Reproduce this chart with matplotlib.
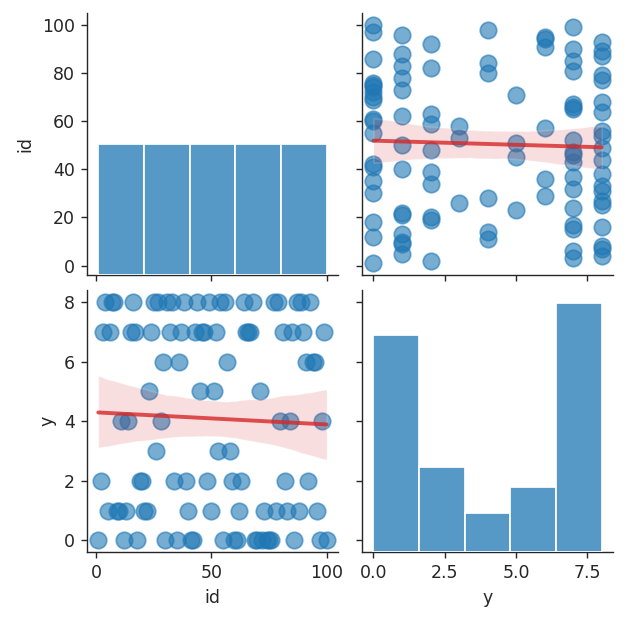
import matplotlib
matplotlib.use('Agg')
import matplotlib.pyplot as plt
import pandas as pd
import seaborn as sns

# values
ids = [1, 2, 3, 4, 5, 6, 7, 8, 9, 10, 11, 12, 13, 14, 15, 16, 17, 18, 19, 20,
       21, 22, 23, 24, 25, 26, 27, 28, 29, 30, 31, 32, 33, 34, 35, 36, 37, 38, 39, 40,
       41, 42, 43, 44, 45, 46, 47, 48, 49, 50, 51, 52, 53, 54, 55, 56, 57, 58, 59, 60,
       61, 62, 63, 64, 65, 66, 67, 68, 69, 70, 71, 72, 73, 74, 75, 76, 77, 78, 79, 80,
       81, 82, 83, 84, 85, 86, 87, 88, 89, 90, 91, 92, 93, 94, 95, 96, 97, 98, 99, 100]
y_vals = [0, 2, 7, 8, 1, 7, 8, 8, 1, 1, 4, 0, 1, 4, 7, 8, 7, 0, 2, 2,
          1, 1, 5, 7, 8, 3, 8, 4, 6, 0, 8, 7, 8, 2, 0, 6, 7, 8, 2, 1,
          0, 0, 7, 8, 5, 7, 7, 2, 8, 1, 5, 7, 3, 8, 0, 8, 6, 3, 2, 0,
          0, 1, 2, 8, 7, 7, 7, 8, 0, 0, 5, 0, 1, 0, 0, 0, 8, 1, 8, 4,
          7, 2, 1, 4, 7, 0, 8, 1, 8, 7, 6, 2, 8, 6, 6, 1, 0, 4, 7, 0]

df = pd.DataFrame({'id': ids, 'y': y_vals})

sns.set_style('ticks')
g = sns.pairplot(df, kind='reg', diag_kws={'bins': 5},
                 plot_kws={'scatter_kws': {'s': 90, 'alpha': 0.6},
                           'line_kws': {'color': '#d62728', 'alpha': 0.8}})
g.figure.set_size_inches(5, 617 / 125)
g.figure.subplots_adjust(left=0.139, right=0.981, bottom=0.105, top=0.979,
                         wspace=0.096, hspace=0.057)
g.figure.savefig('out.png', dpi=125)
